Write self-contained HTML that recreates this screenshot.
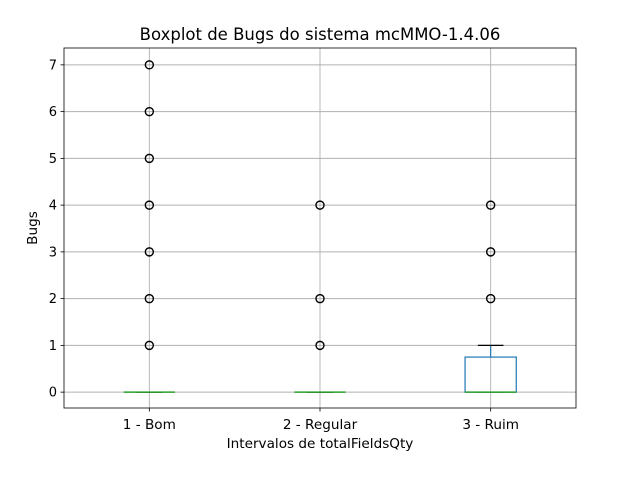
<!DOCTYPE html>
<html><head><meta charset="utf-8"><style>
body{margin:0;background:#fff;}
svg text{font-family:"DejaVu Sans","Liberation Sans",sans-serif;fill:#000;}
</style></head><body>
<svg id="chart" width="640" height="480" xmlns="http://www.w3.org/2000/svg">
<rect width="640" height="480" fill="#fff"/>
<g id="grid"></g>
<g id="marks"></g>
<rect x="64" y="48" width="512" height="360" fill="none" stroke="#000" stroke-width="0.8"/>
<g id="ticks"></g>
<text x="320" y="40" font-size="16.5" text-anchor="middle">Boxplot de Bugs do sistema mcMMO-1.4.06</text>
<text x="320" y="448" font-size="13.6" text-anchor="middle">Intervalos de totalFieldsQty</text>
<text transform="translate(37,228) rotate(-90)" font-size="13.6" text-anchor="middle">Bugs</text>
</svg>
<script>
const categories=["1 - Bom","2 - Regular","3 - Ruim"];
const q1=[0,0,0];
const medians=[0,0,0];
const q3=[0,0,0.75];
const whiskLow=[0,0,0];
const whiskHigh=[0,0,1];
const outliers=[[1,2,3,4,5,6,7],[1,2,4],[2,3,4]];
const yTicks=[0,1,2,3,4,5,6,7];
const L=64,R=576,T=48,B=408,ymin=-0.35,ymax=7.35;
const xs=i=>L+(i+1-0.5)/3*(R-L);
const ys=v=>B-(v-ymin)/(ymax-ymin)*(B-T)+0.5;
const uw=(R-L)/3;
const NS="http://www.w3.org/2000/svg";
function mk(p,t,a){const e=document.createElementNS(NS,t);for(const k in a)e.setAttribute(k,a[k]);document.getElementById(p).appendChild(e);return e;}
yTicks.forEach(v=>{
 const g=mk('grid','line',{x1:L,x2:R,y1:ys(v),y2:ys(v),stroke:'#b0b0b0','stroke-width':0.9});
 
 
 mk('ticks','line',{x1:L-3.5,x2:L,y1:ys(v),y2:ys(v),stroke:'#000','stroke-width':0.8});
 const t=mk('ticks','text',{x:L-7,y:ys(v)+4.5,'font-size':13,'text-anchor':'end'});
 t.textContent=v;
 
 
});
categories.forEach((c,i)=>{
 const x=xs(i);
 const g=mk('grid','line',{x1:x,x2:x,y1:T,y2:B,stroke:'#b0b0b0','stroke-width':0.9});
 
 
 mk('ticks','line',{x1:x,x2:x,y1:B,y2:B+3.5,stroke:'#000','stroke-width':0.8});
 const t=mk('ticks','text',{x:x,y:B+21,'font-size':13.6,'text-anchor':'middle'});
 t.textContent=c;
 
 
 const hw=0.15*uw,cw=0.075*uw;
 mk('marks','line',{x1:x,x2:x,y1:ys(q3[i]),y2:ys(whiskHigh[i]),stroke:'#1f77b4','stroke-width':1.2});
 mk('marks','line',{x1:x,x2:x,y1:ys(q1[i]),y2:ys(whiskLow[i]),stroke:'#1f77b4','stroke-width':1.2});
 mk('marks','line',{x1:x-cw,x2:x+cw,y1:ys(whiskHigh[i]),y2:ys(whiskHigh[i]),stroke:'#000','stroke-width':1.3});
 mk('marks','line',{x1:x-cw,x2:x+cw,y1:ys(whiskLow[i]),y2:ys(whiskLow[i]),stroke:'#000','stroke-width':1.3});
 const b=mk('marks','rect',{x:x-hw,y:ys(q3[i]),width:2*hw,height:Math.max(0,ys(q1[i])-ys(q3[i])),fill:'none',stroke:'#1f77b4','stroke-width':1.2});
 
 
 const m=mk('marks','line',{x1:x-hw,x2:x+hw,y1:ys(medians[i]),y2:ys(medians[i]),stroke:'#2ca02c','stroke-width':1.6});
 
 
 outliers[i].forEach(v=>{
  const o=mk('marks','circle',{cx:x,cy:ys(v),r:4,fill:'none',stroke:'#000','stroke-width':1.4});
  
  
 });
});
</script>
</body></html>
